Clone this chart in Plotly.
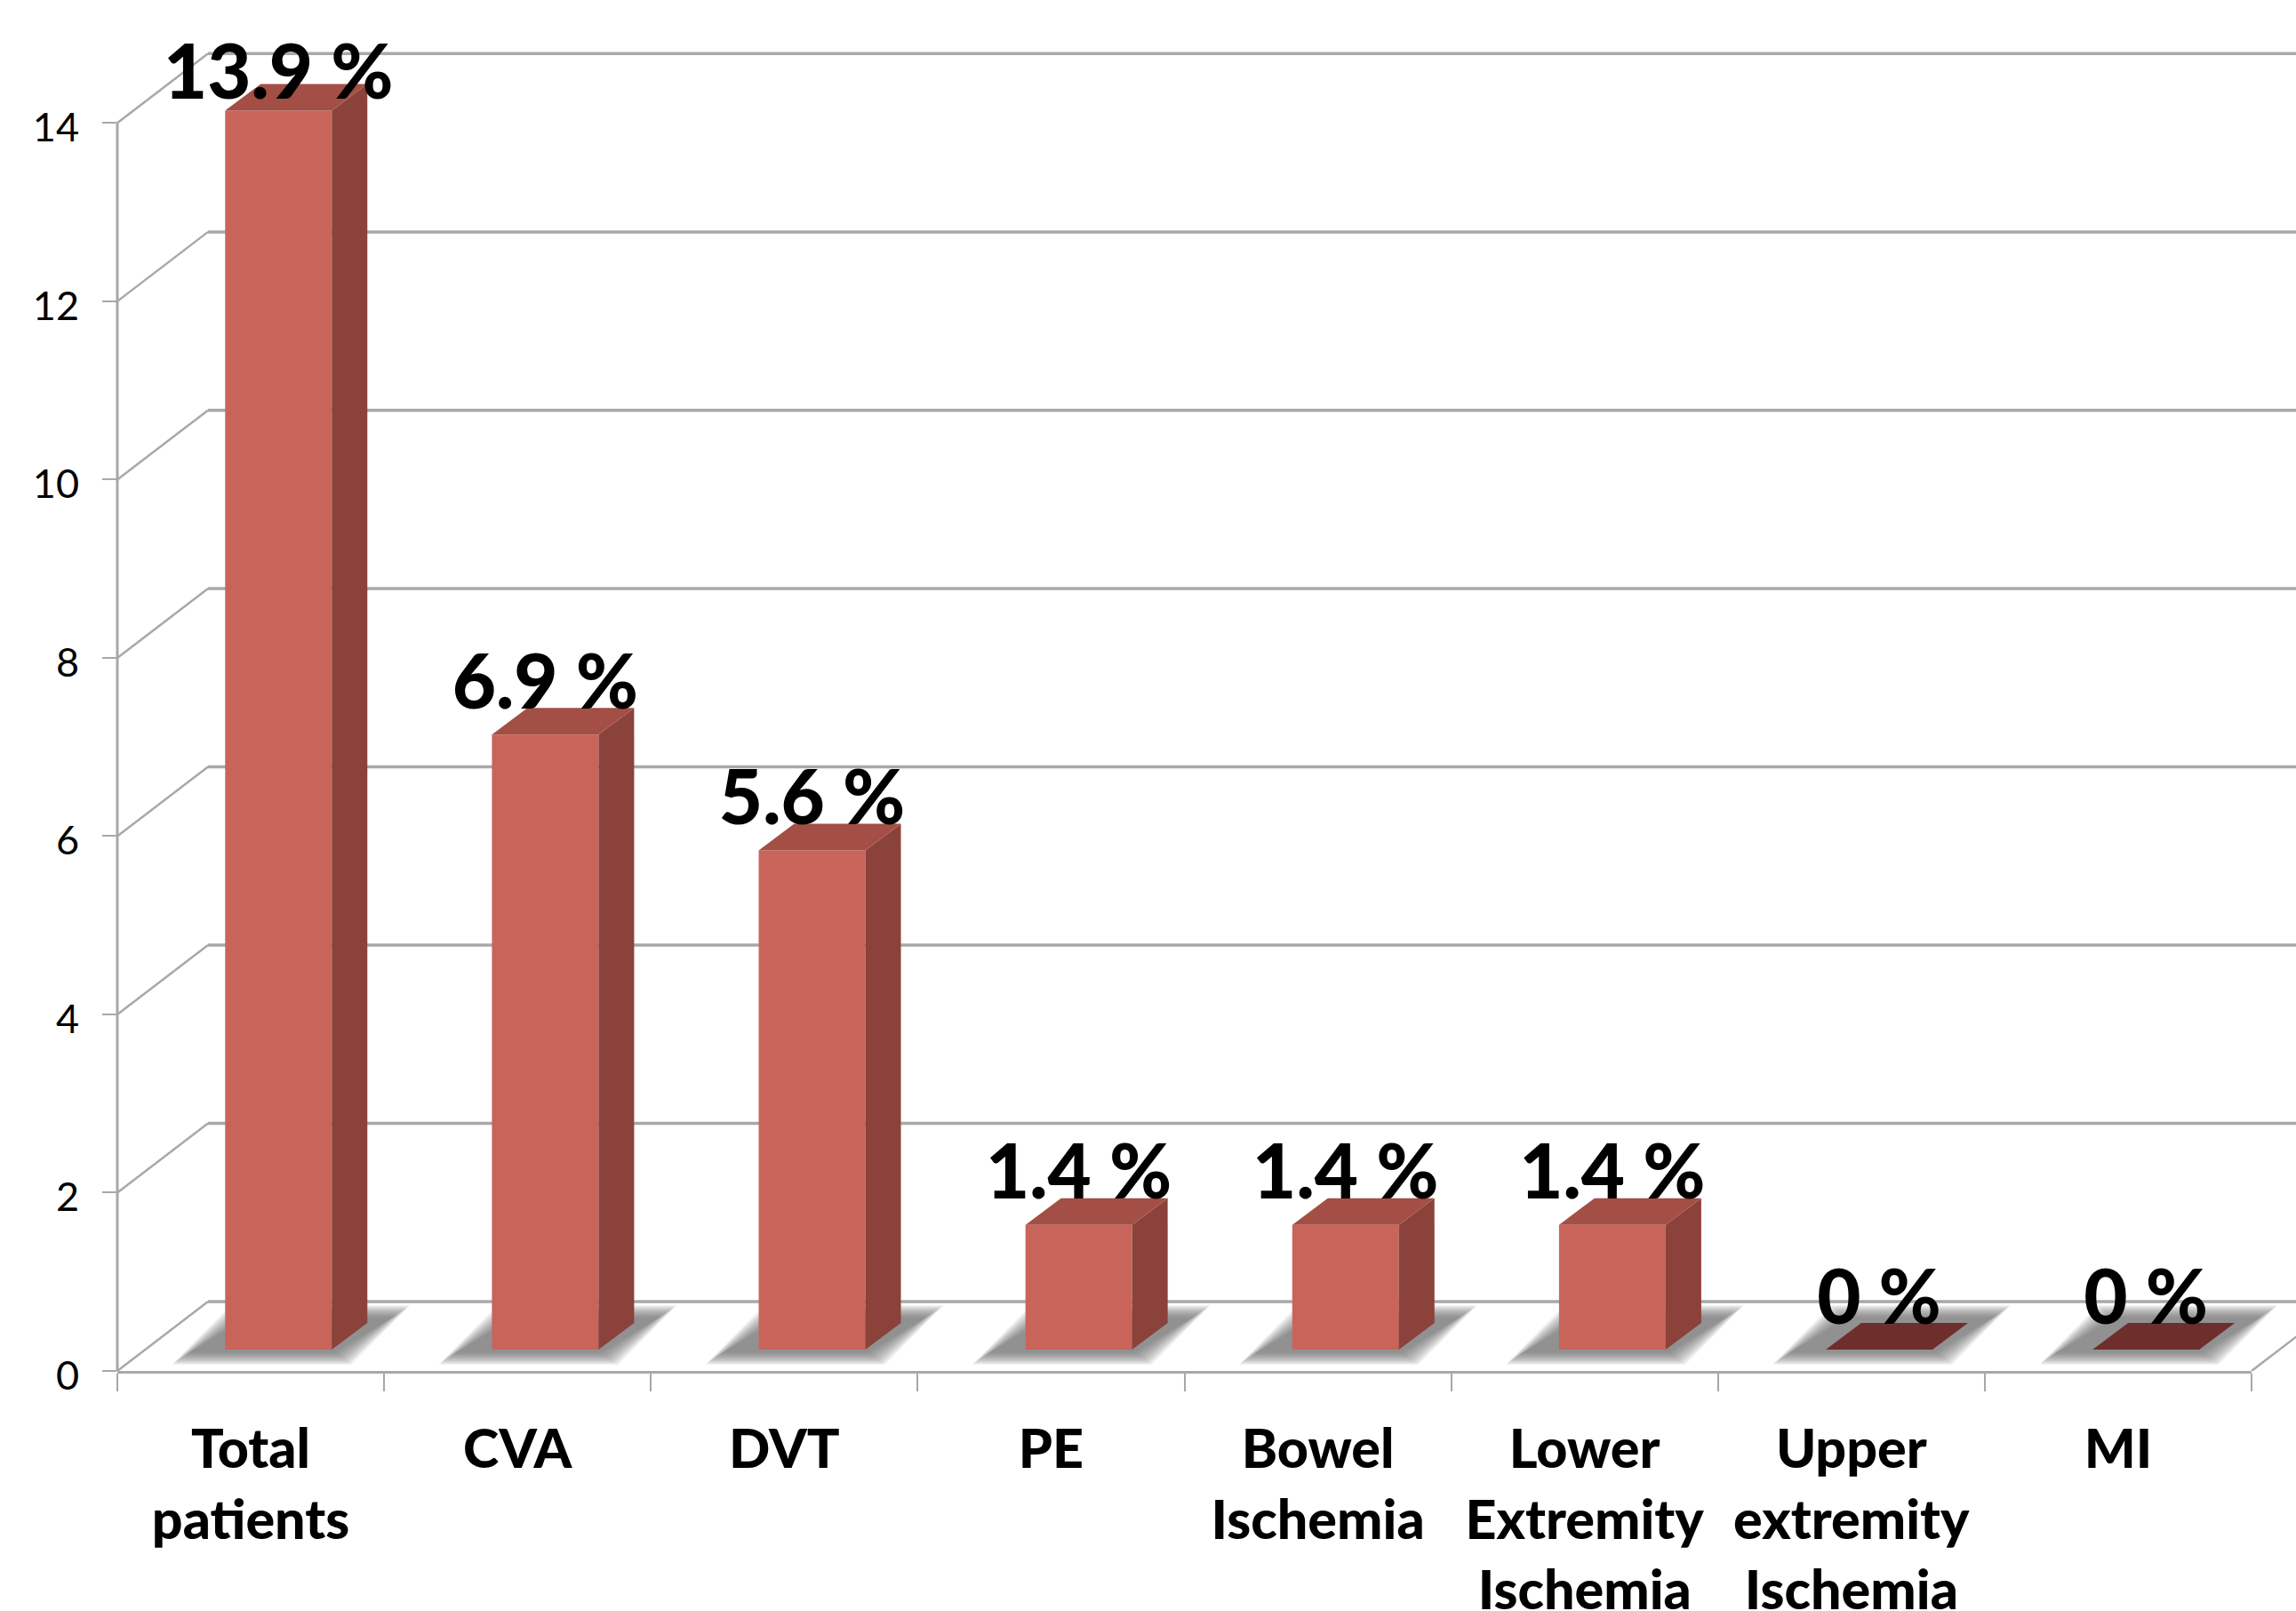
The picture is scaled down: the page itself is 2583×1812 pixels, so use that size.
import plotly.graph_objects as go

categories = ["Total<br>patients", "CVA", "DVT", "PE", "Bowel<br>Ischemia",
              "Lower<br>Extremity<br>Ischemia", "Upper<br>extremity<br>Ischemia", "MI"]
values = [13.9, 6.9, 5.6, 1.4, 1.4, 1.4, 0, 0]
value_labels = ["13.9 %", "6.9 %", "5.6 %", "1.4 %", "1.4 %", "1.4 %", "0 %", "0 %"]
y_ticks = [0, 2, 4, 6, 8, 10, 12, 14]

W, H = 2583, 1812
ML, MR, MB = 132, 50, 270
PX_X = (W - ML - MR) / 8
PX_Y = (H - MB) / 15.38

# Oblique projection of the chart depth, in axis units
WALL_DX, WALL_DY = 102 / PX_X, 78 / PX_Y   # floor front edge to back wall
BAR_DX, BAR_DY = 40 / PX_X, 30 / PX_Y      # bar front face to back face
FLOOR = 24 / PX_Y                          # front of the bars above the axis
BAR_W = 120 / PX_X
BAR_SHIFT = 0.604

FRONT, SIDE, TOP, EMPTY = "#C8645A", "#8B423A", "#A34F45", "#6E2E2C"
GRID = "#A8A8A8"
FONT = "Lato"


def px(x):
    """Horizontal axis position as a paper fraction, so lines may run past the plot area."""
    return x / 8


shapes = []

# Back wall lines and the diagonals joining them to the value axis
X_FAR = (W - ML) / PX_X
for t in y_ticks:
    shapes.append(dict(type="line", layer="below", xref="paper", x0=0, y0=t, x1=px(WALL_DX), y1=t + WALL_DY,
                       line=dict(color=GRID, width=2.5)))
    shapes.append(dict(type="line", layer="below", xref="paper", x0=px(WALL_DX), y0=t + WALL_DY,
                       x1=px(X_FAR), y1=t + WALL_DY, line=dict(color=GRID, width=3.5)))
shapes.append(dict(type="line", layer="below", xref="paper", x0=1, y0=0, x1=px(8 + WALL_DX), y1=WALL_DY,
                   line=dict(color=GRID, width=2.5)))
# Value axis stops at the top tick
shapes.append(dict(type="line", layer="below", xref="paper", x0=0, y0=0, x1=0, y1=max(y_ticks),
                   line=dict(color=GRID, width=3)))

centers = [i + BAR_SHIFT for i in range(len(values))]

# Soft floor shadow: stacked translucent parallelograms, outermost first
LAYERS = 16
SLANT = 66 / PX_X
for c in centers:
    for k in range(LAYERS):
        inset = k * 1.3
        left = c - BAR_W / 2 - (60 - inset) / PX_X
        right = c + BAR_W / 2 + (22 - inset) / PX_X
        low = FLOOR - (17 - inset * 0.7) / PX_Y
        high = FLOOR + (50 - inset * 0.7) / PX_Y
        shapes.append(dict(
            type="path", layer="below", xref="paper", line=dict(width=0),
            fillcolor="rgba(110,110,110,0.075)",
            path=(f"M{px(left)},{low} L{px(right)},{low} "
                  f"L{px(right + SLANT)},{high} L{px(left + SLANT)},{high} Z"),
        ))

fig = go.Figure()

# Front faces
fig.add_trace(go.Bar(
    x=centers, y=values, base=[FLOOR] * len(values), width=BAR_W,
    marker=dict(color=FRONT, line=dict(width=0)), showlegend=False,
))

# Side and top faces of each bar
for c, v in zip(centers, values):
    xr = c + BAR_W / 2
    xl = c - BAR_W / 2
    top = FLOOR + v
    if v > 0:
        fig.add_trace(go.Scatter(
            x=[xr, xr + BAR_DX, xr + BAR_DX, xr, xr],
            y=[FLOOR, FLOOR + BAR_DY, top + BAR_DY, top, FLOOR],
            fill="toself", fillcolor=SIDE, mode="none", showlegend=False,
        ))
    fig.add_trace(go.Scatter(
        x=[xl, xr, xr + BAR_DX, xl + BAR_DX, xl],
        y=[top, top, top + BAR_DY, top + BAR_DY, top],
        fill="toself", fillcolor=TOP if v > 0 else EMPTY, mode="none", showlegend=False,
    ))

# Value labels sit on the back edge of each bar; the tallest is pulled down slightly
fig.add_trace(go.Scatter(
    x=centers,
    y=[FLOOR + v + BAR_DY - (0.16 if v > 13 else 0) - 0.22 for v in values],
    mode="text", text=value_labels, textposition="top center",
    textfont=dict(family=FONT, size=85, color="black", weight=900),
    cliponaxis=False, showlegend=False,
))

# Category labels live on an overlaid axis centred between the boundary ticks
fig.add_trace(go.Scatter(
    x=[i + 0.5 for i in range(len(categories))], y=[0] * len(categories),
    mode="none", xaxis="x2", showlegend=False,
))

fig.update_layout(
    width=W, height=H,
    margin=dict(l=ML, r=MR, t=0, b=MB, pad=0),
    paper_bgcolor="white", plot_bgcolor="white",
    shapes=shapes,
    showlegend=False,
    xaxis=dict(range=[0, 8], tickvals=list(range(9)), ticktext=[""] * 9, automargin=False,
               ticks="outside", ticklen=20, tickwidth=2, tickcolor=GRID,
               showgrid=False, zeroline=False, showline=True, linecolor=GRID, linewidth=3),
    xaxis2=dict(range=[0, 8], overlaying="x", side="bottom", anchor="y", automargin=False,
                tickvals=[i + 0.5 for i in range(len(categories))], ticktext=categories,
                ticks="outside", ticklen=35, tickcolor="rgba(0,0,0,0)",
                tickfont=dict(family=FONT, size=61, color="black", weight=900),
                tickangle=0, showgrid=False, zeroline=False, showline=False),
    yaxis=dict(range=[0, 15.38], tickvals=y_ticks, ticks="outside", ticklen=16, tickwidth=2,
               automargin=False, ticklabelstandoff=17, ticklabelshift=5,
               tickcolor=GRID, tickfont=dict(family=FONT, size=45, color="black"),
               showgrid=False, zeroline=False, showline=False),
)

fig.write_html("out.html")
